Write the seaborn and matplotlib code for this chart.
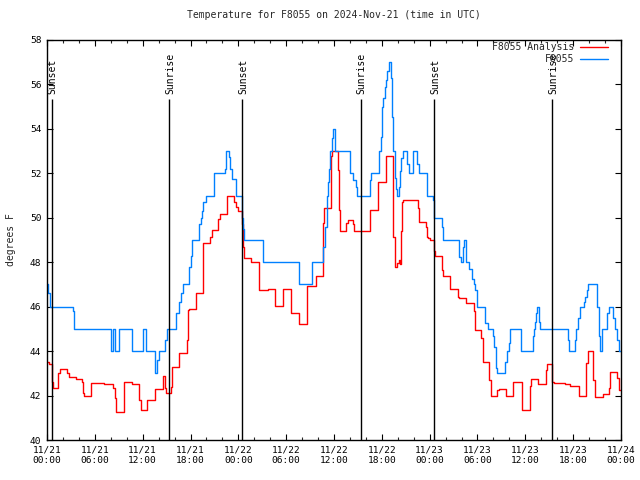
import matplotlib
matplotlib.use('Agg')
import matplotlib.pyplot as plt
import pandas as pd
import seaborn as sns

title = "Temperature for F8055 on 2024-Nov-21 (time in UTC)"
ylabel = "degrees F"
series_names = ["F8055 Analysis", "F8055"]
series_colors = ["#ff0000", "#0080ff"]

# hours since 2024-11-21 00:00 UTC (step changes), temperatures in deg F
analysis_hours = [0.0, 0.3, 0.6, 0.8, 1.4, 1.6, 2.5, 2.7, 3.6, 4.4, 4.55, 4.7, 5.5, 7.2, 8.3, 8.5, 8.7,
                  9.6, 10.6, 11.5, 11.8, 12.6, 13.5, 14.6, 14.75, 14.9, 15.5, 15.65, 16.6, 17.5, 17.65,
                  17.8, 18.65, 19.55, 20.5, 20.7, 21.5, 21.65, 22.6, 23.5, 23.7, 23.9, 24.45, 24.55,
                  24.75, 25.65, 26.6, 27.7, 28.6, 29.6, 30.6, 31.6, 32.6, 33.7, 34.6, 34.8, 35.6,
                  35.75, 36.45, 36.6, 36.75, 37.5, 37.7, 38.4, 38.55, 40.5, 41.5, 42.5, 43.45, 43.6,
                  43.9, 44.1, 44.25, 44.4, 44.55, 44.7, 46.5, 46.65, 47.5, 47.7, 47.85, 48.0, 48.55,
                  48.7, 49.5, 49.65, 50.5, 51.55, 51.7, 52.5, 53.55, 53.65, 54.5, 54.65, 55.5, 55.7,
                  56.5, 56.7, 57.6, 58.5, 59.55, 60.6, 60.75, 61.6, 62.55, 62.7, 63.4, 63.6, 65.0,
                  65.6, 66.7, 67.6, 67.8, 68.5, 68.7, 69.7, 70.45, 70.6, 71.5, 71.75, 72.0]
analysis_temps = [43.5, 43.4, 42.6, 42.35, 43.0, 43.2, 43.0, 42.85, 42.75, 42.6, 42.1, 42.0, 42.55,
                  42.5, 42.35, 41.9, 41.25, 42.6, 42.5, 41.8, 41.35, 41.8, 42.3, 42.9, 42.35, 42.1,
                  42.4, 43.3, 43.9, 44.5, 45.85, 45.9, 46.6, 48.85, 49.15, 49.45, 49.95, 50.15, 51.0,
                  50.7, 50.5, 50.3, 49.7, 48.7, 48.2, 48.0, 46.75, 46.8, 46.05, 46.8, 45.7, 45.2,
                  46.95, 47.4, 49.75, 50.45, 52.8, 53.0, 52.15, 50.35, 49.4, 49.75, 49.9, 49.7, 49.4,
                  50.35, 51.6, 52.8, 49.15, 47.8, 47.95, 48.1, 47.9, 49.4, 50.7, 50.8, 50.45, 49.8,
                  49.6, 49.15, 49.1, 49.0, 48.5, 48.3, 47.65, 47.4, 46.8, 46.45, 46.4, 46.15, 45.8,
                  44.95, 44.6, 43.5, 42.7, 42.0, 42.25, 42.3, 42.0, 42.6, 41.35, 42.45, 42.75, 42.5,
                  43.15, 43.4, 42.6, 42.55, 42.5, 42.45, 42.0, 43.45, 44.0, 42.7, 41.95, 42.05, 42.35,
                  43.05, 42.8, 42.25, 42.25]

obs_hours = [0.0, 0.1, 0.4, 3.2, 3.4, 8.0, 8.25, 8.55, 9.05, 10.6, 12.1, 12.45, 13.55, 13.8, 14.0,
             14.8, 15.0, 16.2, 16.6, 16.85, 17.0, 17.8, 18.0, 18.2, 19.1, 19.35, 19.5, 19.6, 19.9,
             20.9, 22.3, 22.5, 22.8, 22.95, 23.2, 23.7, 24.4, 24.6, 24.75, 27.1, 31.6, 33.2, 34.6,
             34.9, 35.1, 35.2, 35.4, 35.5, 35.75, 35.9, 36.1, 38.0, 38.4, 38.8, 38.9, 40.5, 40.7,
             41.6, 41.9, 42.0, 42.2, 42.4, 42.5, 42.7, 42.9, 43.1, 43.3, 43.4, 43.7, 43.8, 43.9,
             44.1, 44.3, 44.4, 44.7, 45.2, 45.4, 45.9, 46.45, 46.6, 47.7, 48.4, 48.6, 49.5, 49.7,
             51.7, 51.9, 52.2, 52.35, 52.5, 52.9, 53.3, 53.5, 53.7, 53.9, 54.0, 55.0, 55.3, 56.0,
             56.1, 56.3, 56.5, 57.5, 57.7, 57.9, 58.1, 58.3, 59.4, 60.9, 61.1, 61.2, 61.3, 61.5,
             61.7, 61.8, 65.3, 65.5, 66.2, 66.4, 66.6, 66.9, 67.3, 67.5, 67.7, 67.9, 69.0, 69.2,
             69.4, 69.6, 70.3, 70.5, 71.0, 71.2, 71.5, 71.7, 72.0]
obs_temps = [47.0, 46.6, 46.0, 45.8, 45.0, 44.0, 45.0, 44.0, 45.0, 44.0, 45.0, 44.0, 43.0, 43.6, 44.0,
             44.5, 45.0, 45.7, 46.2, 46.6, 47.0, 47.8, 48.3, 49.0, 49.7, 50.0, 50.3, 50.7, 51.0,
             52.0, 52.2, 53.0, 52.75, 52.2, 51.75, 51.0, 50.0, 49.5, 49.0, 48.0, 47.0, 48.0, 48.7,
             49.6, 51.0, 51.6, 52.2, 53.0, 53.6, 54.0, 53.0, 52.0, 51.7, 51.4, 51.0, 51.7, 52.0,
             53.0, 53.65, 55.0, 55.4, 55.9, 56.2, 56.6, 57.0, 56.3, 54.55, 53.0, 51.8, 51.3, 51.0,
             51.4, 52.1, 52.7, 53.0, 52.4, 52.0, 53.0, 52.4, 52.0, 51.0, 50.8, 50.0, 49.6, 49.0,
             48.25, 48.0, 48.7, 49.0, 48.0, 47.7, 47.25, 47.0, 46.75, 46.3, 46.0, 45.25, 45.0, 44.7,
             44.2, 43.25, 43.0, 43.5, 44.0, 44.35, 45.0, 45.0, 44.0, 44.7, 45.0, 45.3, 45.7, 46.0,
             45.3, 45.0, 44.5, 44.0, 44.5, 45.0, 45.5, 46.0, 46.2, 46.45, 46.75, 47.0, 46.0, 44.7,
             44.0, 45.0, 45.7, 46.0, 45.5, 45.0, 44.5, 44.0, 44.0]

sun_hours = [0.6, 15.35, 24.5, 39.35, 48.6, 63.4]
sun_labels = ["Sunset", "Sunrise", "Sunset", "Sunrise", "Sunset", "Sunrise"]

xtick_hours = [0, 6, 12, 18, 24, 30, 36, 42, 48, 54, 60, 66, 72]
xtick_labels = ["11/21\n00:00", "11/21\n06:00", "11/21\n12:00", "11/21\n18:00",
                "11/22\n00:00", "11/22\n06:00", "11/22\n12:00", "11/22\n18:00",
                "11/23\n00:00", "11/23\n06:00", "11/23\n12:00", "11/23\n18:00",
                "11/24\n00:00"]
ytick_values = [40, 42, 44, 46, 48, 50, 52, 54, 56, 58]

sns.set_style("ticks")
plt.rcParams['font.family'] = ['DejaVu Sans Mono']

analysis_df = pd.DataFrame({"hours": analysis_hours, "temp": analysis_temps})
obs_df = pd.DataFrame({"hours": obs_hours, "temp": obs_temps})

fig = plt.figure(figsize=(6.4, 4.8), dpi=100)
ax = fig.add_axes([47 / 640, 40 / 480, 574 / 640, 400 / 480])

sns.lineplot(data=analysis_df, x="hours", y="temp", ax=ax, color=series_colors[0],
             label=series_names[0], drawstyle="steps-post", estimator=None, linewidth=1.0)
sns.lineplot(data=obs_df, x="hours", y="temp", ax=ax, color=series_colors[1],
             label=series_names[1], drawstyle="steps-post", estimator=None, linewidth=1.0)

ax.vlines(sun_hours, 40, 55.35, colors="black", linewidth=1.0)
for h, lab in zip(sun_hours, sun_labels):
    ax.text(h + 0.1, 55.55, lab, rotation=90, ha="center", va="bottom", fontsize=7, color="black")

ax.set_xlim(0, 72)
ax.set_ylim(40, 58)
ax.set_xticks(xtick_hours)
ax.set_xticklabels(xtick_labels)
ax.set_xticks(range(0, 73, 2), minor=True)
ax.set_yticks(ytick_values)
ax.tick_params(axis="both", which="major", direction="in", top=True, right=True,
               length=4, width=0.8, labelsize=6.8, pad=4, colors="black")
ax.tick_params(axis="x", which="minor", direction="in", top=True, bottom=True,
               length=2.5, width=0.8)
for sp in ax.spines.values():
    sp.set_visible(True)
    sp.set_color("black")
    sp.set_linewidth(1.0)

ax.set_xlabel("")
ax.set_ylabel(ylabel, fontsize=7, labelpad=10)
ax.set_title(title, fontsize=7, pad=16)

leg = ax.legend(loc="upper right", bbox_to_anchor=(0.99, 1.012), frameon=False, markerfirst=False,
                fontsize=7, handlelength=2.9, handletextpad=0.6, labelspacing=0.2,
                borderaxespad=0.3)
for t in leg.get_texts():
    t.set_ha("right")

fig.savefig("out.png", dpi=100, facecolor="white")
